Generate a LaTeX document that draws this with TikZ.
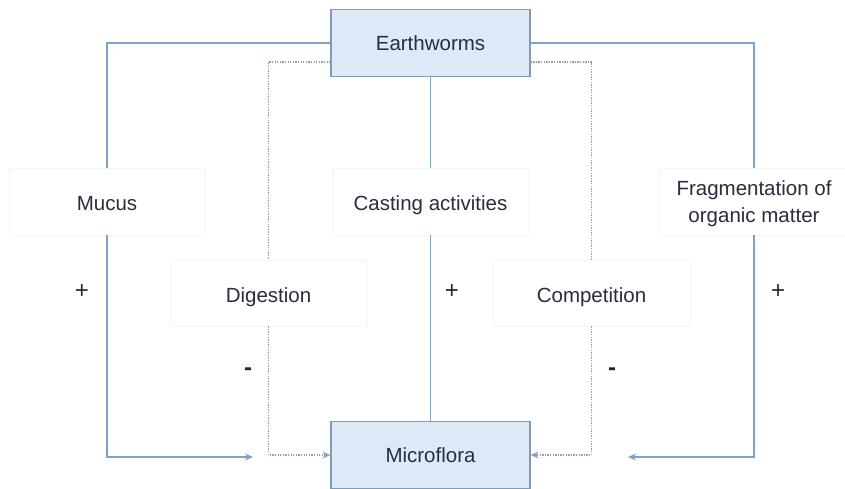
\documentclass[tikz,border=0pt]{standalone}
\usepackage{fontspec}
\setmainfont{Liberation Sans}
\usetikzlibrary{arrows.meta}
\definecolor{boxfill}{HTML}{DDE9F6}
\definecolor{boxline}{HTML}{7F9BB8}
\definecolor{wire}{HTML}{7AA3CC}
\definecolor{dotwire}{HTML}{8FA3BA}
\definecolor{txt}{HTML}{2A2D3E}
\begin{document}
\begin{tikzpicture}[x=1pt,y=-1pt,
  mainbox/.style={draw=boxline,fill=boxfill,line width=1.2pt,minimum width=199pt,minimum height=67pt,inner sep=0pt,text=txt,font=\fontsize{20.5}{27}\selectfont},
  labelbox/.style={draw=black!4,fill=white,inner sep=0pt,text=txt,align=center,font=\fontsize{20.5}{27}\selectfont},
  oneline/.style={text height=22pt,text depth=4pt},
  solidwire/.style={draw=wire,line width=1.5pt},
  dotwireline/.style={draw=dotwire,line width=1.3pt,dash pattern=on 1.3pt off 1.3pt},
  tip/.style={-{Stealth[length=8pt,width=7pt]}},
  sign/.style={anchor=base,font=\fontsize{24}{28}\selectfont,text=black!85},
  minus/.style={anchor=base,font=\fontsize{24}{28}\selectfont\bfseries,text=black!85}]
\useasboundingbox (0,0) rectangle (845,489);
% main boxes
\node[mainbox] (ew) at (430.5,43) {Earthworms};
\node[mainbox] (mf) at (430.5,455) {Microflora};
% label boxes
\node[labelbox,oneline,minimum width=196pt,minimum height=67pt] (mucus) at (107,201.5) {Mucus};
\node[labelbox,oneline,minimum width=195pt,minimum height=67pt] (cast) at (430.5,201.5) {Casting activities};
\node[labelbox,minimum width=190pt,minimum height=67pt] (frag) at (754,201.5) {\raisebox{-2.5pt}[\height][\depth]{\begin{tabular}{@{}c@{}}Fragmentation of\\organic matter\end{tabular}}};
\node[labelbox,oneline,minimum width=197pt,minimum height=66pt] (dig) at (268.5,293) {Digestion};
\node[labelbox,oneline,minimum width=197pt,minimum height=66pt] (comp) at (591.5,293) {Competition};
% free ends
\coordinate (mucend) at (253,457);
\coordinate (fragend) at (628,457);
% connectors
\draw[solidwire] (ew.west) -| (mucus.north);
\draw[solidwire,tip] (mucus.south) |- (mucend);
\draw[solidwire] (ew.south -| cast.north) -- (cast.north);
\draw[solidwire] (cast.south) -- (cast.south |- mf.north);
\draw[solidwire] (ew.east) -| (frag.north);
\draw[solidwire,tip] (frag.south) |- (fragend);
\draw[dotwireline] ([yshift=-19pt]ew.west) -| (dig.north);
\draw[dotwireline,tip] (dig.south) |- (mf.west);
\draw[dotwireline] ([yshift=-19pt]ew.east) -| (comp.north);
\draw[dotwireline,tip] (comp.south) |- (mf.east);
% signs
\node[sign] (s1) at (82,298.5) {+};
\node[sign] (s2) at (452,298) {+};
\node[sign] (s3) at (778,298) {+};
\node[minus] (s4) at (248,375.5) {-};
\node[minus] (s5) at (612,375.5) {-};
\end{tikzpicture}
\end{document}
